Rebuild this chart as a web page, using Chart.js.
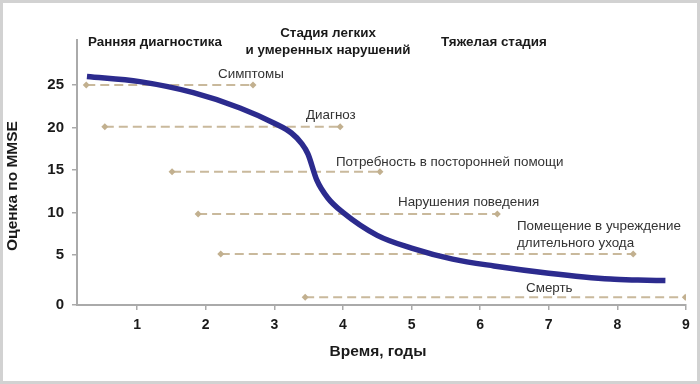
<!DOCTYPE html>
<html>
<head>
<meta charset="utf-8">
<script src="https://cdn.jsdelivr.net/npm/chart.js@4.4.1/dist/chart.umd.min.js"></script>
<style>
  body { margin: 0; background: #fff; }
  canvas { display: block; }
</style>
</head>
<body>
<canvas id="chart" width="700" height="384"></canvas>
<script>
// MMSE score over the years (curve)
const curveYears = [0.27, 1.04, 1.82, 2.5, 3.0, 3.25, 3.4, 3.49, 3.62, 3.78, 4.0, 4.5, 5.0, 5.6, 6.2, 7.0, 7.9, 8.3, 8.7];
const curveScore = [26.0, 25.4, 24.1, 22.3, 20.5, 19.35, 18.1, 16.9, 13.8, 11.7, 10.0, 7.3, 5.8, 4.5, 3.7, 2.85, 2.15, 2.04, 1.98];

// dashed milestone ranges
const eventNames = ["Симптомы", "Диагноз", "Потребность в посторонней помощи", "Нарушения поведения", "Помещение в учреждение длительного ухода", "Смерть"];
const eventScore = [25, 20.1, 14.8, 9.8, 5.1, 0];
const eventStart = [0.26, 0.53, 1.51, 1.89, 2.22, 3.45];
const eventEnd   = [2.69, 3.96, 4.54, 6.25, 8.23, 8.99];

const xTicks = [1, 2, 3, 4, 5, 6, 7, 8, 9];
const yTicks = [0, 5, 10, 15, 20, 25];
const yBottom = -0.9; // in the original the "0" label sits on the axis line

const stageNames = ["Ранняя диагностика", "Стадия легких\nи умеренных нарушений", "Тяжелая стадия"];

const FONT = "'Liberation Sans', Arial, sans-serif";

var datasets = [{
    data: curveYears.map((x, i) => ({x: x, y: curveScore[i]})),
    borderColor: "#2c2b8e",
    borderWidth: 5.5,
    pointRadius: 0,
    cubicInterpolationMode: "monotone",
    borderCapStyle: "butt"
}];
for (let i = 0; i < eventNames.length; i++) {
    datasets.push({
        data: [{x: eventStart[i], y: eventScore[i]}, {x: eventEnd[i], y: eventScore[i]}],
        borderColor: "#c9b99c",
        backgroundColor: "#c2b08f",
        borderWidth: 2,
        borderDash: [9, 5],
        pointStyle: "rectRot",
        pointRadius: 3.5,
        pointBorderWidth: 0
    });
}

// texts placed like on the picture
var texts = {
    id: "texts",
    beforeDraw(chart) {
        const c = chart.ctx;
        c.save();
        c.fillStyle = "#fff";
        c.fillRect(0, 0, chart.width, chart.height);
        c.restore();
    },
    afterDraw(chart) {
        const c = chart.ctx;
        c.save();
        c.strokeStyle = "#d2d2d2";
        c.lineWidth = 3;
        c.strokeRect(1.5, 1.5, chart.width - 3, chart.height - 3);

        c.textBaseline = "middle";
        c.fillStyle = "#1a1a1a";
        c.font = "bold 13.4px " + FONT;
        c.textAlign = "left";
        c.fillText(stageNames[0], 88, 42);
        c.textAlign = "center";
        let st = stageNames[1].split("\n");
        c.fillText(st[0], 328, 33);
        c.fillText(st[1], 328, 50);
        c.textAlign = "left";
        c.fillText(stageNames[2], 441, 42);

        c.fillStyle = "#333";
        c.font = "13.4px " + FONT;
        c.fillText(eventNames[0], 218, 74);
        c.fillText(eventNames[1], 306, 115);
        c.fillText(eventNames[2], 336, 162);
        c.fillText(eventNames[3], 398, 202);
        c.fillText("Помещение в учреждение", 517, 226);
        c.fillText("длительного ухода", 517, 243);
        c.fillText(eventNames[5], 526, 288);

        c.fillStyle = "#1a1a1a";
        c.font = "bold 15.5px " + FONT;
        c.textAlign = "center";
        c.fillText("Время, годы", 378, 352);
        c.translate(13, 186);
        c.rotate(-Math.PI / 2);
        c.fillText("Оценка по MMSE", 0, 0);
        c.restore();
    }
};

var ctx = document.getElementById("chart").getContext("2d");
var myChart = new Chart(ctx, {
    type: "line",
    data: { datasets: datasets },
    plugins: [texts],
    options: {
        responsive: false,
        animation: false,
        layout: { padding: { left: 0, top: 40, right: 14, bottom: 0 } },
        plugins: { legend: { display: false }, tooltip: { enabled: false } },
        scales: {
            x: {
                type: "linear",
                min: 0.125,
                max: 9,
                afterBuildTicks: s => { s.ticks = xTicks.map(v => ({value: v})); },
                afterFit: s => { s.height = 79; },
                border: { color: "#aaa", width: 2 },
                grid: { drawOnChartArea: false, color: "#aaa", tickLength: 5, lineWidth: 1.5 },
                ticks: { padding: 7, color: "#1a1a1a", font: { family: FONT, size: 14, weight: "bold" } }
            },
            y: {
                type: "linear",
                min: yBottom,
                max: 30.3,
                afterBuildTicks: s => { s.ticks = yTicks.map(v => ({value: v === 0 ? yBottom : v})); },
                afterFit: s => { s.width = 77; },
                border: { color: "#aaa", width: 2 },
                grid: { drawOnChartArea: false, color: "#aaa", tickLength: 5, lineWidth: 1.5 },
                ticks: {
                    padding: 8, color: "#1a1a1a", font: { family: FONT, size: 15, weight: "bold" },
                    callback: v => v < 0 ? "0" : v
                }
            }
        }
    }
});
</script>
</body>
</html>
